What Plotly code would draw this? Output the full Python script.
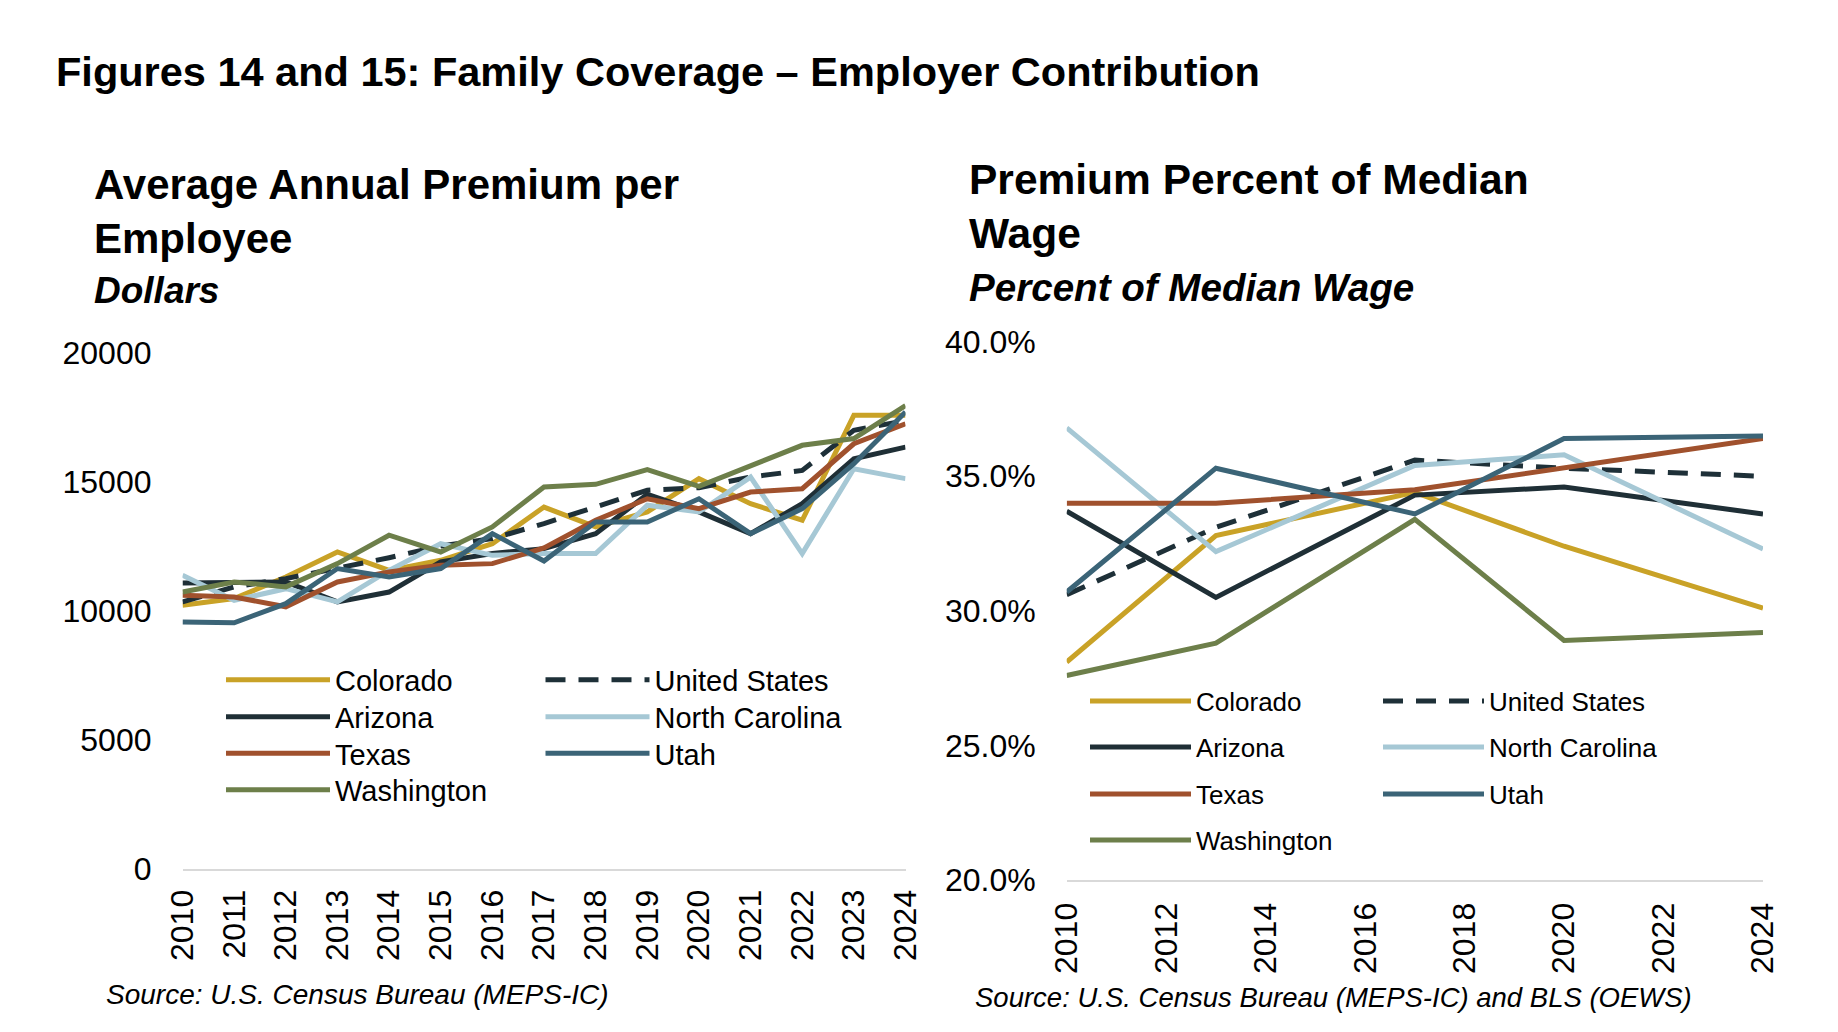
import plotly.graph_objects as go

# ---------------------------------------------------------------------------
# data
# ---------------------------------------------------------------------------
years_left = list(range(2010, 2025))
colorado_usd = [10210, 10470, 11300, 12270, 11560, 11950, 12590, 14010, 13240, 13820, 15110, 14140, 13500, 17560, 17560]
arizona_usd = [11070, 11110, 11110, 10340, 10720, 11890, 12210, 12400, 12980, 14500, 13820, 12980, 14140, 15880, 16330]
texas_usd = [10600, 10530, 10150, 11110, 11500, 11760, 11820, 12430, 13500, 14330, 13950, 14590, 14720, 16460, 17230]
washington_usd = [10720, 11110, 10920, 11820, 12920, 12270, 13240, 14790, 14890, 15460, 14810, 15620, 16400, 16660, 17940]
us_usd = [10340, 10920, 11240, 11630, 12050, 12500, 12790, 13370, 14010, 14660, 14760, 15170, 15430, 16980, 17360]
ncarolina_usd = [11370, 10400, 10850, 10340, 11560, 12590, 12140, 12210, 12210, 14080, 13820, 15170, 12210, 15490, 15110]
utah_usd = [9560, 9530, 10270, 11630, 11300, 11630, 12980, 11920, 13430, 13430, 14330, 12980, 13950, 15690, 17690]

years_right = [2010, 2013, 2017, 2020, 2024]
colorado_pct = [28.1, 32.8, 34.4, 32.4, 30.1]
arizona_pct = [33.7, 30.5, 34.3, 34.6, 33.6]
texas_pct = [34.0, 34.0, 34.5, 35.3, 36.4]
washington_pct = [27.6, 28.8, 33.4, 28.9, 29.2]
us_pct = [30.6, 33.1, 35.6, 35.3, 35.0]
ncarolina_pct = [36.8, 32.2, 35.4, 35.8, 32.3]
utah_pct = [30.7, 35.3, 33.6, 36.4, 36.5]

series_names = ["Colorado", "United States", "Arizona", "North Carolina", "Texas", "Utah", "Washington"]
left_values = [colorado_usd, us_usd, arizona_usd, ncarolina_usd, texas_usd, utah_usd, washington_usd]
right_values = [colorado_pct, us_pct, arizona_pct, ncarolina_pct, texas_pct, utah_pct, washington_pct]

colors = {
    "Colorado": "#C9A227",
    "United States": "#1E3038",
    "Arizona": "#1F2F36",
    "North Carolina": "#A6C8D5",
    "Texas": "#A0512D",
    "Utah": "#3B6477",
    "Washington": "#6D7F4A",
}

W, H = 1838, 1032
BODY = 8  # default page margin of the html body


def px(x):
    return (x - BODY) / W


def py(y):
    return 1 - (y - BODY) / H


# legend slots (screen px): series order is row-major, two columns
left_cols = [221, 540.5]
left_rows = [680, 717, 753.5, 790]
right_cols = [1085, 1378]
right_rows = [701, 747, 794, 840]

fig = go.Figure()
legends = {}
n = 0
for side, values, years, cols, rows, axes in [
    ("L", left_values, years_left, left_cols, left_rows, ("x", "y")),
    ("R", right_values, years_right, right_cols, right_rows, ("x2", "y2")),
]:
    for i, (name, vals) in enumerate(zip(series_names, values)):
        n += 1
        key = "legend" if n == 1 else "legend%d" % n
        fig.add_trace(go.Scatter(
            x=years, y=vals, name=name, mode="lines",
            line=dict(color=colors[name], width=5,
                      dash="20px,13px" if name == "United States" else "solid"),
            xaxis=axes[0], yaxis=axes[1], legend=key, showlegend=True,
        ))
        if side == "L":
            font = dict(family="Liberation Sans, Arial", size=29, color="#000000")
            iw = 104
        else:
            font = dict(family="Liberation Sans, Arial", size=26, color="#000000")
            iw = 101
        legends[key] = dict(
            x=px(cols[i % 2]), y=py(rows[i // 2]), xanchor="left", yanchor="middle",
            orientation="v", bgcolor="rgba(0,0,0,0)", borderwidth=0,
            font=font, itemwidth=iw, visible=True,
        )

tick_font = dict(family="Liberation Sans, Arial", size=32, color="#000000")
axis_common = dict(showgrid=False, zeroline=False, automargin=False, ticks="")

fig.update_layout(
    width=W, height=H,
    margin=dict(l=0, r=0, t=0, b=0),
    paper_bgcolor="white", plot_bgcolor="white",
    hovermode=False,
    showlegend=True,
    xaxis=dict(domain=[px(182.5), px(905.5)], range=[2010, 2024], anchor="y",
               tickmode="linear", tick0=2010, dtick=1, tickangle=-90,
               showline=True, linecolor="#D9D9D9", linewidth=2,
               tickfont=tick_font, ticklabelstandoff=6, **axis_common),
    yaxis=dict(domain=[py(869), py(352.3)], range=[0, 20000], anchor="x",
               tickmode="linear", tick0=0, dtick=5000, tickformat="d",
               showline=False, tickfont=tick_font, ticklabelstandoff=30, **axis_common),
    xaxis2=dict(domain=[px(1066.7), px(1763)], range=[2010, 2024], anchor="y2",
                tickmode="linear", tick0=2010, dtick=2, tickangle=-90,
                showline=True, linecolor="#D9D9D9", linewidth=2,
                tickfont=tick_font, ticklabelstandoff=8, **axis_common),
    yaxis2=dict(domain=[py(880), py(341.7)], range=[20, 40], anchor="x2",
                tickmode="linear", tick0=20, dtick=5, tickformat=".1f", ticksuffix="%",
                showline=False, tickfont=tick_font, ticklabelstandoff=30, **axis_common),
    **legends,
)

title_font = "Liberation Sans Narrow, Liberation Sans, Arial"
texts = [
    ("<b>Figures 14 and 15: Family Coverage – Employer Contribution</b>", 54, 71, 41.5),
    ("<b>Average Annual Premium per</b>", 92, 185, 42),
    ("<b>Employee</b>", 92, 239, 42),
    ("<b><i>Dollars</i></b>", 92, 290, 37),
    ("<b>Premium Percent of Median</b>", 967, 180, 42.5),
    ("<b>Wage</b>", 967, 234, 42.5),
    ("<b><i>Percent of Median Wage</i></b>", 967, 287, 38.6),
]
for txt, x, y, size in texts:
    fig.add_annotation(text=txt, x=px(x), y=py(y), xref="paper", yref="paper",
                       xanchor="left", yanchor="middle", showarrow=False,
                       font=dict(family=title_font, size=size, color="#000000"))

sources = [
    ("<i>Source: U.S. Census Bureau (MEPS-IC)</i>", 104, 994, 28),
    ("<i>Source: U.S. Census Bureau (MEPS-IC) and BLS (OEWS)</i>", 973, 997, 27.5),
]
for txt, x, y, size in sources:
    fig.add_annotation(text=txt, x=px(x), y=py(y), xref="paper", yref="paper",
                       xanchor="left", yanchor="middle", showarrow=False,
                       font=dict(family="Liberation Sans, Arial", size=size, color="#000000"))

fig.write_html("out.html")
